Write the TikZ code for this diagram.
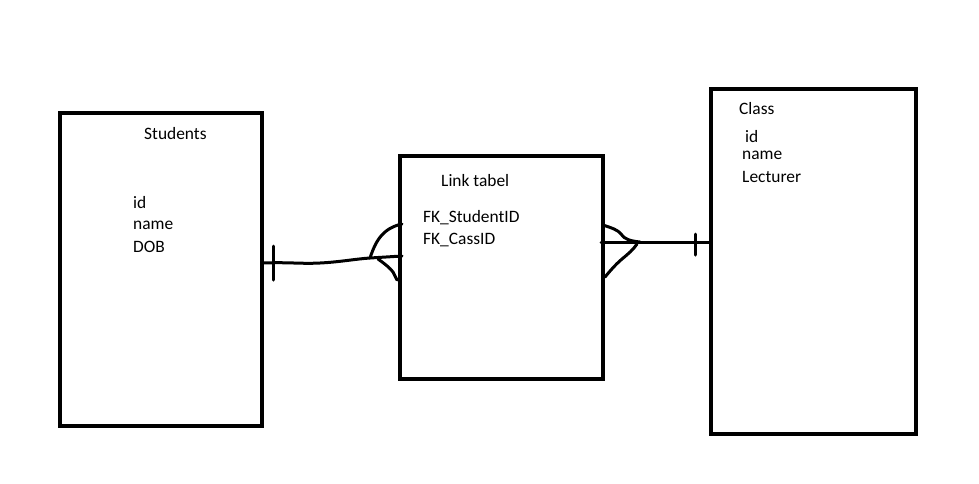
\documentclass[tikz,border=0pt]{standalone}
\usepackage{fontspec}
\setmainfont{Carlito}
\begin{document}
\begin{tikzpicture}[x=1pt,y=-1pt,
  tbl/.style={draw=black,line width=4.5pt,fill=none},
  lbl/.style={anchor=west,inner sep=0pt,font=\fontsize{17.4}{20}\selectfont},
  conn/.style={line width=3pt,line cap=round,line join=round}]
\useasboundingbox[fill=white] (0,0) rectangle (979,483);
% tables
\draw[tbl] (60,113) rectangle (262,426);
\draw[tbl] (400,156) rectangle (603,379);
\draw[tbl] (711,89) rectangle (916,434);
% anchor coordinates
\coordinate (sR) at (262,263);
\coordinate (lL) at (402,256);
\coordinate (lR) at (601,242);
\coordinate (cL) at (711,242);
% text
\node[lbl] (st) at (144,134) {Students};
\node[lbl] (s1) at (133,203) {id};
\node[lbl] (s2) at (133,225) {name};
\node[lbl] (s3) at (133,247) {DOB};
\node[lbl] (lt) at (441,181) {Link tabel};
\node[lbl] (l1) at (423,218) {FK\_StudentID};
\node[lbl] (l2) at (423,240) {FK\_CassID};
\node[lbl] (ct) at (739,109) {Class};
\node[lbl] (c1) at (745,137) {id};
\node[lbl] (c2) at (742,155) {name};
\node[lbl] (c3) at (742,177) {Lecturer};
% left connector
\coordinate (lf) at (370,258);
\draw[conn] (sR) .. controls (290,262) and (300,264) .. (320,263)
  .. controls (340,262) and (355,259) .. (lf) -- (lL);
\draw[conn] (273,246) -- (273,280);
\draw[conn] (lf) .. controls (374,246) and (378,238) .. (385,232)
  .. controls (391,227) and (397,225) .. (402,224);
\draw[conn] (378,259) .. controls (385,264) and (390,268) .. (393,272)
  -- (397,280);
% right connector
\coordinate (rf) at (640,242);
\draw[conn] (lR) -- (cL);
\draw[conn] (695,234) -- (695,255);
\draw[conn] (603,225) .. controls (612,228) and (618,230) .. (621,234)
  .. controls (624,239) and (630,241) .. (rf);
\draw[conn] (637,244) .. controls (633,250) and (628,254) .. (622,259)
  .. controls (615,265) and (610,271) .. (605,277);
\end{tikzpicture}
\end{document}
